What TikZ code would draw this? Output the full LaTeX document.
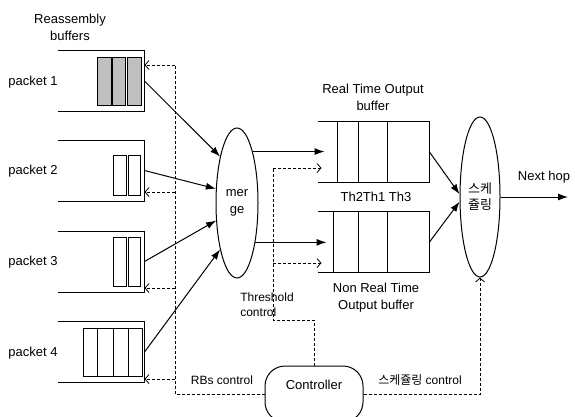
\documentclass[tikz,border=0pt]{standalone}
\usepackage{fontspec}
\setmainfont{Liberation Sans}
\newfontfamily\kr{Noto Sans CJK KR}
\usetikzlibrary{arrows.meta,positioning,shapes.geometric}

\begin{document}
\begin{tikzpicture}[x=1pt,y=-1pt,line width=1pt,font=\fontsize{13}{17}\selectfont,
  arr/.style={-{Latex[length=10pt,width=7pt]}},
  ctl/.style={densely dashed,line width=0.8pt},
  ctlarr/.style={ctl,-{Straight Barb[length=4pt,width=9pt]}},
  buf/.style={minimum width=86pt,minimum height=60pt,inner sep=0pt},
  obuf/.style={minimum width=111pt,minimum height=60pt,inner sep=0pt},
  oval/.style={draw,ellipse,inner sep=0pt,align=center}]
\useasboundingbox (0,0) rectangle (575,416);
\node[align=center] (rbtitle) at (70,27) {Reassembly\\buffers};
\foreach \i/\y in {1/81,2/170.5,3/261.5,4/352}
  {\node[buf] (b\i) at (101,\y) {};
   \node (p\i) at (33,\y+1) {packet \i};
   \draw (b\i.north west)--(b\i.north east)--(b\i.south east)--(b\i.south west);}
\foreach \xa/\xb in {97/111,112/125,127/141}
  \draw[fill=black!25,line width=0.7pt] (\xa,57) rectangle (\xb,105);
\foreach \xa/\xb in {113/126,128/140}
  {\draw[line width=0.7pt] (\xa,155) rectangle (\xb,195);
   \draw[line width=0.7pt] (\xa,237) rectangle (\xb,286);}
\draw[line width=0.7pt] (83,328) rectangle (142,376);
\foreach \x in {97,113,128} \draw[line width=0.7pt] (\x,328)--(\x,376);
\node[oval,minimum width=42pt,minimum height=150pt] (merge) at (237,203) {mer\\ge};
\foreach \i/\a in {1/110,2/146,3/220,4/250}
  \draw[arr] (b\i.east)--(merge.\a);
\node[obuf] (rt) at (373.5,152) {};
\node[obuf] (nrt) at (373.5,242) {};
\foreach \q in {rt,nrt}
  \draw (\q.north west)--(\q.north east)--(\q.south east)--(\q.south west);
\foreach \x in {337,358,387} \draw (\x,122)--(\x,182);
\foreach \x in {333,358,387} \draw (\x,212)--(\x,272);
\node[align=center] (rttitle) at (373,97) {Real Time Output\\buffer};
\node (th) at (376,197) {Th2Th1 Th3};
\node[align=center] (nrttitle) at (376,298) {Non Real Time\\Output buffer};
\draw[arr,shorten >=-7pt] (merge.73)--(merge.73 -| rt.west);
\draw[arr,shorten >=-9pt] (merge.-65)--(merge.-65 -| nrt.west);
\node[oval,minimum width=40pt,minimum height=160pt,font=\kr\fontsize{13}{16}\selectfont] (sched) at (480,197) {스케\\쥴링};
\draw[arr] (rt.east)--(sched.172);
\draw[arr] (nrt.east)--(sched.193);
\coordinate (hop) at (568,197);
\draw[arr] (sched.east)--(hop);
\node (hoptext) at (544,177) {Next hop};
\node[draw,rounded corners=20pt,minimum width=98pt,minimum height=56pt] (ctrl) at (314,394) {};
\node (ctrltext) at (314,385) {Controller};
\coordinate (thA) at (273,168);
\coordinate (thB) at (273,263);
\coordinate (thC) at (273,320);
\draw[ctl] (ctrl.north) |- (thC)--(thA);
\draw[ctlarr,shorten >=-4pt] (thA)--(thA -| rt.west);
\draw[ctlarr,shorten >=-4pt] (thB)--(thB -| nrt.west);
\node[align=left,font=\fontsize{12}{15}\selectfont] (thtext) at (267,305) {Threshold\\control};
\foreach \i/\y in {1/65,2/192,3/288,4/379} \coordinate (r\i) at (175,\y);
\draw[ctl] (ctrl.west) -| (r1);
\foreach \i in {1,...,4} \draw[ctlarr] (r\i)--(r\i -| b\i.east);
\node[font=\fontsize{12}{15}\selectfont] (rbtext) at (222,380) {RBs control};
\draw[ctlarr] (ctrl.east) -| (sched.south);
\node[font=\fontsize{12}{15}\selectfont] (sctext) at (420,380) {{\kr 스케쥴링} control};
\end{tikzpicture}
\end{document}
